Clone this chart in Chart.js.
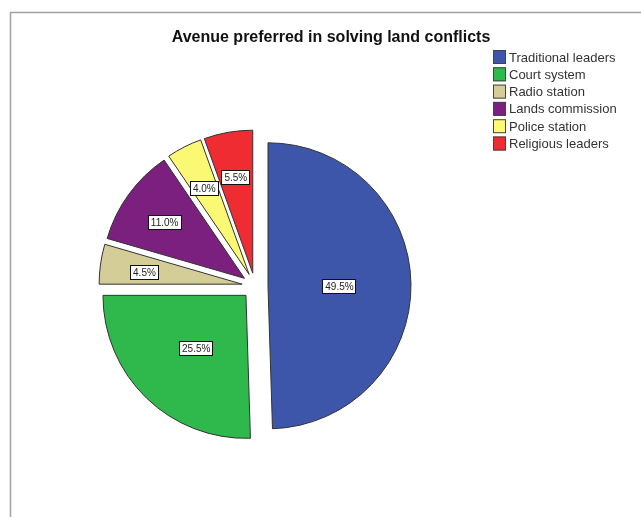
<!DOCTYPE html>
<html>
<head>
<meta charset="utf-8">
<script src="https://cdn.jsdelivr.net/npm/chart.js@4.4.1/dist/chart.umd.min.js"></script>
<style>
html,body{margin:0;padding:0;background:#fff;}
#wrap{position:relative;width:641px;height:517px;}
</style>
</head>
<body>
<div id="wrap"><canvas id="c" width="641" height="517"></canvas></div>
<script>
const chartTitle = 'Avenue preferred in solving land conflicts';
const categories = ['Traditional leaders','Court system','Radio station','Lands commission','Police station','Religious leaders'];
const percentages = [49.5, 25.5, 4.5, 11.0, 4.0, 5.5];
const sliceColors = ['#3d56a9','#2fb84b','#d4cd98','#7c207f','#fbf874','#ee2c31'];

const EXPLODE = 13; // visual shift of every slice, px

const framePlugin = {
  id: 'frame',
  beforeDraw(chart) {
    const ctx = chart.ctx;
    ctx.save();
    ctx.fillStyle = '#fff';
    ctx.fillRect(0, 0, chart.width, chart.height);
    ctx.strokeStyle = '#a0a0a0';
    ctx.lineWidth = 1.5;
    ctx.beginPath();
    ctx.moveTo(10.5, chart.height);
    ctx.lineTo(10.5, 12.5);
    ctx.lineTo(chart.width, 12.5);
    ctx.stroke();
    ctx.restore();
  }
};

// draw each library arc shifted outward along its mid angle (uniform explode)
const explodePlugin = {
  id: 'explode',
  beforeDatasetDraw(chart, args) {
    const ctx = chart.ctx;
    args.meta.data.forEach(arc => {
      const p = arc.getProps(['startAngle','endAngle']);
      const mid = (p.startAngle + p.endAngle) / 2;
      ctx.save();
      ctx.translate(Math.cos(mid) * EXPLODE, Math.sin(mid) * EXPLODE);
      arc.draw(ctx, chart.chartArea);
      ctx.restore();
    });
    return false;
  }
};

const titleLegendPlugin = {
  id: 'titleLegend',
  afterDraw(chart) {
    const ctx = chart.ctx;
    ctx.save();
    ctx.fillStyle = '#111';
    ctx.font = 'bold 16px "Liberation Sans", Arial, sans-serif';
    ctx.textAlign = 'center';
    ctx.textBaseline = 'middle';
    ctx.fillText(chartTitle, 331, 38);
    ctx.font = '13px "Liberation Sans", Arial, sans-serif';
    ctx.textAlign = 'left';
    const labels = chart.data.labels;
    const colors = chart.data.datasets[0].backgroundColor;
    labels.forEach((lab, i) => {
      const y = 57 + i * 17.3;
      ctx.fillStyle = colors[i];
      ctx.fillRect(493, y - 7, 13, 14);
      ctx.strokeStyle = '#444';
      ctx.lineWidth = 1;
      ctx.strokeRect(493.5, y - 6.5, 12, 13);
      ctx.fillStyle = '#333';
      ctx.fillText(lab, 509, y + 1);
    });
    ctx.restore();
  }
};

const sliceLabelPlugin = {
  id: 'sliceLabels',
  afterDatasetsDraw(chart) {
    const ctx = chart.ctx;
    const meta = chart.getDatasetMeta(0);
    const vals = chart.data.datasets[0].data;
    ctx.save();
    ctx.font = '10px "Liberation Sans", Arial, sans-serif';
    ctx.textAlign = 'center';
    ctx.textBaseline = 'middle';
    meta.data.forEach((arc, i) => {
      const p = arc.getProps(['x','y','startAngle','endAngle','outerRadius']);
      const mid = (p.startAngle + p.endAngle) / 2;
      const frac = vals[i] < 15 ? 0.69 : 0.5;
      const d = EXPLODE + p.outerRadius * frac;
      const x = p.x + Math.cos(mid) * d;
      const y = p.y + Math.sin(mid) * d + 2;
      const txt = vals[i].toFixed(1) + '%';
      const w = ctx.measureText(txt).width + 6;
      const h = 15;
      ctx.fillStyle = '#fff';
      ctx.fillRect(Math.round(x - w / 2), Math.round(y - h / 2), Math.round(w), h);
      ctx.strokeStyle = '#111';
      ctx.lineWidth = 1;
      ctx.strokeRect(Math.round(x - w / 2) + 0.5, Math.round(y - h / 2) + 0.5, Math.round(w) - 1, h - 1);
      ctx.fillStyle = '#222';
      ctx.fillText(txt, x, y + 0.5);
    });
    ctx.restore();
  }
};

new Chart(document.getElementById('c'), {
  type: 'pie',
  data: {
    labels: categories,
    datasets: [{
      data: percentages,
      backgroundColor: sliceColors,
      borderColor: '#333',
      borderWidth: 1,
      offset: 0,
      radius: 143
    }]
  },
  options: {
    responsive: false,
    animation: false,
    devicePixelRatio: 1,
    layout: { padding: { left: 0, right: 131, top: 55, bottom: 0 } },
    plugins: {
      legend: { display: false },
      title: { display: false },
      tooltip: { enabled: false }
    }
  },
  plugins: [framePlugin, explodePlugin, titleLegendPlugin, sliceLabelPlugin]
});
</script>
</body>
</html>
